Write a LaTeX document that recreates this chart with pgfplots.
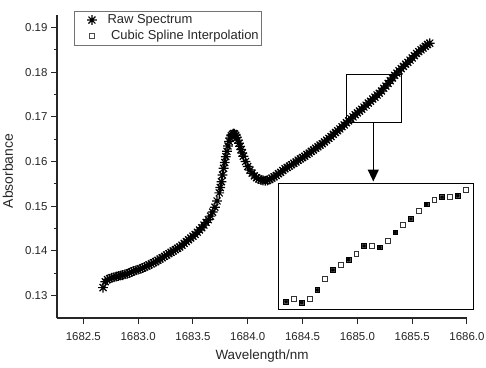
\documentclass[border=0pt]{standalone}
\usepackage{fontspec}
\setmainfont{Liberation Sans}
\usepackage{pgfplots}
\pgfplotsset{compat=1.18}
\usetikzlibrary{arrows.meta}

% eight-armed asterisk used for the measured spectrum
\pgfdeclareplotmark{star8}{%
  \pgfpathmoveto{\pgfqpoint{-\pgfplotmarksize}{0pt}}%
  \pgfpathlineto{\pgfqpoint{\pgfplotmarksize}{0pt}}%
  \pgfpathmoveto{\pgfqpoint{0pt}{-\pgfplotmarksize}}%
  \pgfpathlineto{\pgfqpoint{0pt}{\pgfplotmarksize}}%
  \pgfpathmoveto{\pgfqpoint{-.707\pgfplotmarksize}{-.707\pgfplotmarksize}}%
  \pgfpathlineto{\pgfqpoint{.707\pgfplotmarksize}{.707\pgfplotmarksize}}%
  \pgfpathmoveto{\pgfqpoint{-.707\pgfplotmarksize}{.707\pgfplotmarksize}}%
  \pgfpathlineto{\pgfqpoint{.707\pgfplotmarksize}{-.707\pgfplotmarksize}}%
  \pgfusepathqstroke}

\begin{document}
\begin{tikzpicture}
\path[use as bounding box] (0,0) rectangle (486bp,-368bp);

\begin{axis}[
  at={(57bp,-318bp)}, anchor=south west,
  scale only axis, width=410bp, height=303bp,
  axis lines*=left,
  axis line style={line width=1.1bp, black!85},
  every tick/.style={line width=1.0bp, black!85},
  tick align=outside,
  major tick length=6bp, minor tick length=3.5bp,
  xmin=1682.26, xmax=1686.0,
  ymin=0.125, ymax=0.1928,
  xtick={1682.5,1683.0,...,1686.0},
  ytick={0.13,0.14,...,0.19},
  minor x tick num=1, minor y tick num=1,
  scaled ticks=false,
  tick label style={font=\fontsize{11.5}{13}\selectfont, text=black!85},
  xticklabel style={yshift=-5bp, /pgf/number format/.cd, fixed, fixed zerofill, precision=1, 1000 sep={}},
  yticklabel style={/pgf/number format/.cd, fixed, fixed zerofill, precision=2},
  /pgf/number format/assume math mode=true,
  xlabel={Wavelength/nm}, ylabel={Absorbance},
  every axis x label/.style={at={(axis description cs:0.5,-0.1254)}, anchor=center,
    font=\fontsize{13.5}{15}\selectfont, text=black!85},
  every axis y label/.style={at={(axis description cs:-0.1195,0.485)}, anchor=center, rotate=90,
    font=\fontsize{14}{16}\selectfont, text=black!85},
  legend style={at={(axis description cs:0.0415,1.0132)}, anchor=north west,
    draw=black!55, line width=0.6bp, font=\fontsize{13}{15}\selectfont,
    text=black!85, inner xsep=1bp, inner ysep=1.5bp, row sep=1.2bp,
    legend cell align=left},
  legend image code/.code={%
    \path (0bp,0bp) (29bp,0bp);
    \draw[#1] plot coordinates {(16bp,0bp)};},
  clip=false,
]
\addplot[only marks, mark=star8, mark size=4.9bp, line width=1.2bp, black] table {
1682.68 0.1318
1682.70 0.1331
1682.72 0.1336
1682.74 0.1338
1682.76 0.1340
1682.78 0.1341
1682.80 0.1343
1682.82 0.1344
1682.84 0.1345
1682.86 0.1346
1682.88 0.1348
1682.90 0.1349
1682.92 0.1351
1682.94 0.1353
1682.96 0.1355
1682.98 0.1357
1683.00 0.1358
1683.02 0.1360
1683.04 0.1362
1683.06 0.1364
1683.08 0.1366
1683.10 0.1369
1683.12 0.1371
1683.14 0.1374
1683.16 0.1376
1683.18 0.1379
1683.20 0.1382
1683.22 0.1385
1683.24 0.1388
1683.26 0.1391
1683.28 0.1394
1683.30 0.1397
1683.32 0.1400
1683.34 0.1403
1683.36 0.1406
1683.38 0.1409
1683.40 0.1413
1683.42 0.1417
1683.44 0.1421
1683.46 0.1425
1683.48 0.1429
1683.50 0.1433
1683.52 0.1437
1683.54 0.1442
1683.56 0.1447
1683.58 0.1452
1683.60 0.1458
1683.62 0.1464
1683.64 0.1470
1683.66 0.1478
1683.68 0.1487
1683.70 0.1498
1683.72 0.1512
1683.74 0.1530
1683.75 0.1542
1683.76 0.1555
1683.77 0.1570
1683.78 0.1585
1683.79 0.1598
1683.80 0.1611
1683.81 0.1623
1683.82 0.1635
1683.83 0.1645
1683.84 0.1653
1683.85 0.1658
1683.86 0.1661
1683.87 0.1663
1683.88 0.1662
1683.89 0.1659
1683.90 0.1654
1683.91 0.1648
1683.92 0.1641
1683.93 0.1634
1683.94 0.1627
1683.95 0.1619
1683.96 0.1612
1683.98 0.1600
1684.00 0.1589
1684.02 0.1581
1684.04 0.1574
1684.06 0.1568
1684.08 0.1564
1684.10 0.1561
1684.12 0.1559
1684.14 0.1558
1684.16 0.1557
1684.18 0.1558
1684.20 0.1560
1684.22 0.1563
1684.24 0.1566
1684.26 0.1569
1684.28 0.1573
1684.30 0.1576
1684.32 0.1580
1684.34 0.1584
1684.36 0.1587
1684.38 0.1590
1684.40 0.1593
1684.42 0.1596
1684.44 0.1599
1684.46 0.1603
1684.48 0.1606
1684.50 0.1609
1684.52 0.1612
1684.54 0.1616
1684.56 0.1619
1684.58 0.1623
1684.60 0.1626
1684.62 0.1630
1684.64 0.1633
1684.66 0.1637
1684.68 0.1640
1684.70 0.1644
1684.72 0.1648
1684.74 0.1652
1684.76 0.1656
1684.78 0.1661
1684.80 0.1665
1684.82 0.1669
1684.84 0.1673
1684.86 0.1678
1684.88 0.1682
1684.90 0.1687
1684.92 0.1691
1684.94 0.1696
1684.96 0.1700
1684.98 0.1705
1685.00 0.1709
1685.02 0.1713
1685.04 0.1717
1685.06 0.1722
1685.08 0.1726
1685.10 0.1731
1685.12 0.1735
1685.14 0.1740
1685.16 0.1744
1685.18 0.1749
1685.20 0.1753
1685.22 0.1758
1685.24 0.1764
1685.26 0.1769
1685.28 0.1775
1685.30 0.1781
1685.32 0.1787
1685.34 0.1793
1685.36 0.1798
1685.38 0.1803
1685.40 0.1808
1685.42 0.1813
1685.44 0.1818
1685.46 0.1822
1685.48 0.1827
1685.50 0.1832
1685.52 0.1837
1685.54 0.1842
1685.56 0.1846
1685.58 0.1850
1685.60 0.1854
1685.62 0.1858
1685.64 0.1862
1685.66 0.1865
};
\addlegendentry{Raw Spectrum}
\addlegendimage{only marks, mark=square, mark size=2.6bp, line width=0.7bp, black!70}
\addlegendentry{\ Cubic Spline Interpolation}

% zoom window on the rising flank
\draw[line width=1.3bp] (axis cs:1684.90,0.1687) rectangle (axis cs:1685.40,0.17953);
\end{axis}

\draw[line width=1.3bp, -{Triangle[length=12bp, width=11bp]}]
  (373.3bp,-123bp) -- (373.3bp,-181.5bp);

% magnified view of the window
\begin{axis}[
  at={(278.3bp,-309.3bp)}, anchor=south west,
  scale only axis, width=195bp, height=126bp,
  xmin=1684.90, xmax=1685.40, ymin=0.1687, ymax=0.1796,
  xtick=\empty, ytick=\empty,
  axis line style={line width=1.6bp, black},
  clip=false,
]
\addplot[only marks, mark=square*, mark size=2.4bp, line width=0.8bp,
  mark options={fill=black!65, draw=black}] table {
1684.92 0.16936
1684.96 0.16928
1685.00 0.17037
1685.04 0.17210
1685.08 0.17300
1685.12 0.17418
1685.16 0.17406
1685.20 0.17536
1685.24 0.17652
1685.28 0.17778
1685.32 0.17839
1685.36 0.17853
};
\addplot[only marks, mark=star8, mark size=1.9bp, line width=0.6bp, black] table {
1684.92 0.16936
1684.96 0.16928
1685.00 0.17037
1685.04 0.17210
1685.08 0.17300
1685.12 0.17418
1685.16 0.17406
1685.20 0.17536
1685.24 0.17652
1685.28 0.17778
1685.32 0.17839
1685.36 0.17853
};
\addplot[only marks, mark=square, mark size=2.4bp, line width=0.8bp, black!80] table {
1684.94 0.16957
1684.98 0.16959
1685.02 0.17135
1685.06 0.17257
1685.10 0.17349
1685.14 0.17418
1685.18 0.17461
1685.22 0.17600
1685.26 0.17718
1685.30 0.17813
1685.34 0.17845
1685.38 0.17903
};
\end{axis}
\end{tikzpicture}
\end{document}
